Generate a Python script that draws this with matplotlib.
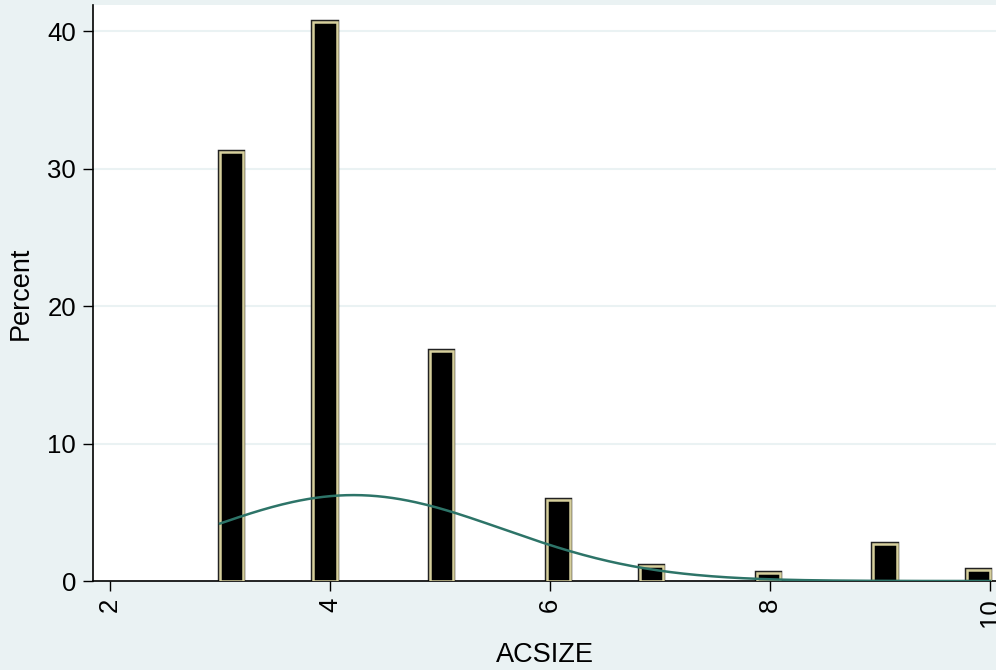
import numpy as np
from matplotlib import pyplot as plt

# histogram of ACSIZE, 33 bins between 3 and 10
acsize = [3, 4, 5, 6, 7, 8, 9, 10]
percent = [31.2, 40.7, 16.7, 5.9, 1.1, 0.6, 2.7, 0.8]
n_bins = 33
x_min, x_max = 3, 10
x_ticks = [2, 4, 6, 8, 10]
y_ticks = [0, 10, 20, 30, 40]

bg = "#eaf2f3"
bar_edge = "#d6cf9c"
curve_col = "#2d7468"

plt.rcParams['font.family'] = ['Liberation Sans', 'DejaVu Sans']

edges = np.linspace(x_min, x_max, n_bins + 1)
width = edges[1] - edges[0]
idx = np.clip(np.searchsorted(edges, acsize, side="right") - 1, 0, n_bins - 1)
lefts = edges[idx]

fig = plt.figure(figsize=(9.96, 6.7), dpi=100, facecolor=bg)
ax = fig.add_axes([0.0934, 0.1328, 1 - 0.0934, 0.9925 - 0.1328])
ax.set_facecolor("white")

for y in y_ticks[1:]:
    ax.axhline(y, color=bg, lw=1.5, zorder=0)

# dark rim then khaki border
ax.bar(lefts, percent, width=width, align="edge", color="black",
       edgecolor="#222222", linewidth=3.2, zorder=2)
ax.bar(lefts, percent, width=width, align="edge", color="black",
       edgecolor=bar_edge, linewidth=1.8, zorder=3)

# normal density overlay scaled to percent per bin
p = np.array(percent) / np.sum(percent)
vals = np.array(acsize, dtype=float)
mu = np.sum(p * vals)
sd = np.sqrt(np.sum(p * (vals - mu) ** 2))
xs = np.linspace(x_min, x_max, 300)
dens = np.exp(-0.5 * ((xs - mu) / sd) ** 2) / (sd * np.sqrt(2 * np.pi)) * width * 100
ax.plot(xs, dens, color=curve_col, lw=1.8, zorder=4)

ax.set_xlim(1.845, 10.055)
ax.set_ylim(0, 41.9)
ax.set_xticks(x_ticks)
ax.set_yticks(y_ticks)
ax.set_xticklabels([str(t) for t in x_ticks], rotation=90, fontsize=18.5)
ax.set_yticklabels([str(t) for t in y_ticks], fontsize=18.5)
ax.tick_params(direction="out", length=7.3, width=1, color="black", pad=4.8)

for s in ["top", "right"]:
    ax.spines[s].set_visible(False)
for s in ["left", "bottom"]:
    ax.spines[s].set_linewidth(1.2)

ax.set_xlabel("ACSIZE", fontsize=19.5, labelpad=11)
ax.set_ylabel("Percent", fontsize=19.5, labelpad=10)

fig.savefig("out.png", dpi=100, facecolor=bg)
